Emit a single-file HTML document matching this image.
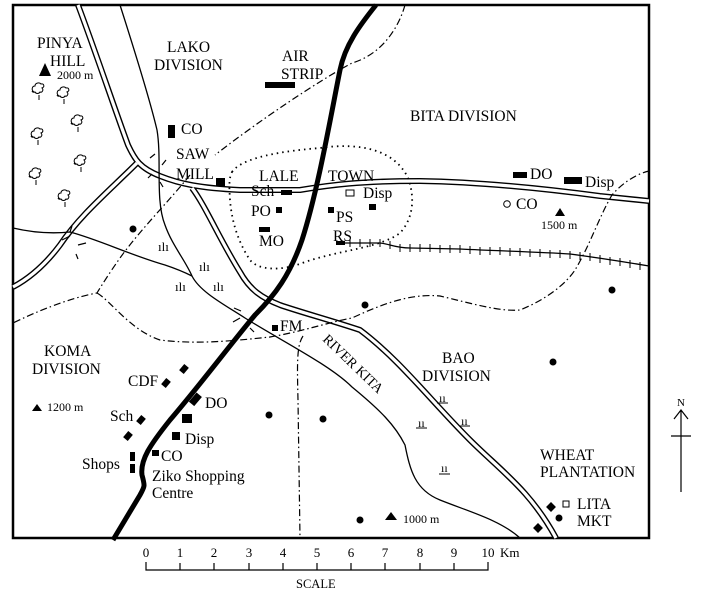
<!DOCTYPE html>
<html><head><meta charset="utf-8"><style>
html,body{margin:0;padding:0;background:#fff;}
svg{display:block;font-family:"Liberation Serif",serif;}
text{fill:#000;}
</style></head><body>
<svg width="704" height="593" viewBox="0 0 704 593" xmlns="http://www.w3.org/2000/svg">
<defs>
<g id="tr" fill="none" stroke="#000" stroke-width="1"><path d="M-4,0 c-3,-2 -2,-6 1,-6 c0,-3 4,-4 6,-2 c3,-1 4,3 1,4 c2,2 0,5 -2,4 c-1,2 -4,2 -5,0 c-3,1 -4,-2 -1,0 M1,3 v5"/></g>
</defs>
<rect x="13" y="5" width="636" height="533" fill="none" stroke="#000" stroke-width="2.5"/>

<g fill="none" stroke="#000" stroke-width="6" stroke-linejoin="round">
<path d="M78,5 C95,50 115,110 128,145 C135,160 140,168 160,176 C180,184 200,188 240,190 L300,190 C330,185 360,181 420,181 C480,182 540,188 600,196 L649,201"/>
<path d="M137,163 C110,190 80,215 60,245 C45,265 30,278 13,287"/>
<path d="M192,188 C205,205 220,240 240,272 C250,290 262,298 280,305 C300,312 330,320 360,330 C400,360 430,400 470,440 C500,470 530,490 556,538"/>
</g>
<g fill="none" stroke="#fff" stroke-width="3.2" stroke-linejoin="round">
<path d="M78,5 C95,50 115,110 128,145 C135,160 140,168 160,176 C180,184 200,188 240,190 L300,190 C330,185 360,181 420,181 C480,182 540,188 600,196 L649,201"/>
<path d="M137,163 C110,190 80,215 60,245 C45,265 30,278 13,287"/>
<path d="M192,188 C205,205 220,240 240,272 C250,290 262,298 280,305 C300,312 330,320 360,330 C400,360 430,400 470,440 C500,470 530,490 556,538"/>
</g>

<g fill="none" stroke="#000" stroke-width="1.3">
<path d="M120,5 C128,30 150,100 157,130 C162,160 155,200 165,225 C172,245 185,260 192,276 C200,292 225,305 245,318 C280,340 330,365 352,387 C380,410 395,425 405,445 C410,470 415,490 440,500 C470,512 500,520 520,538"/>
<path d="M13,228 C30,232 50,234 70,232 C100,240 130,255 165,265 C180,270 188,274 192,276"/>
</g>
<g fill="none" stroke="#000" stroke-width="1.2">
<path d="M150,158 l5,-4 M162,165 l4,-5 M148,178 l4,-4 M160,182 l3,5"/>
<path d="M62,240 l8,-4 M70,232 l2,-6 M78,245 l8,-2 M76,254 l2,5"/>
<path d="M234,308 l7,3 M233,322 l7,-4 M250,318 l5,-3 M250,328 l4,4"/>
</g>

<path d="M376,5 C360,25 345,45 340,70 C330,120 318,190 302,240 C290,275 275,295 255,315 C230,345 200,385 170,420 C150,445 140,460 142,475 C145,486 145,486 140,495 L113,540" fill="none" stroke="#000" stroke-width="5"/>

<g fill="none" stroke="#000" stroke-width="1.2" stroke-dasharray="7,3,1.5,3">
<path d="M405,5 C398,30 380,55 352,63 C320,80 260,120 215,155"/>
<path d="M190,175 C170,200 140,230 120,258 C108,275 100,288 97,293 C80,296 50,305 13,323"/>
<path d="M97,293 C110,300 130,330 160,340 C200,345 240,340 270,337 C300,332 330,322 352,318 C380,305 410,293 440,296 C470,303 500,312 520,310 C545,300 565,285 575,270 C590,245 600,215 612,195 C625,180 640,173 649,171"/>
<path d="M303,336 C297,345 297,360 298,400 L300,538"/>
</g>

<path d="M232,172 C240,160 270,152 320,148 C360,142 395,150 408,178 C416,200 412,220 400,233 C380,248 340,250 305,262 C280,272 258,270 250,260 C240,245 232,225 230,200 C229,185 229,178 232,172 Z" fill="none" stroke="#000" stroke-width="1.8" stroke-dasharray="1.5,4"/>

<path d="M336,243 L380,243 C390,244 395,248 410,248 L460,249 C500,251 540,252 570,254 C600,258 625,262 649,266" fill="none" stroke="#000" stroke-width="1.3"/>
<g stroke="#000" stroke-width="1">
<path d="M350,239v8M360,239v8M370,239v8M380,239v8M390,241v8M400,244v8M410,244v8M420,244v8M430,244v8M440,245v8M450,245v8M460,245v8M470,246v8M480,247v8M490,247v8M500,247v8M510,248v8M520,248v8M530,249v8M540,249v8M550,250v8M560,250v8M570,251v8M580,252v8M590,253v8M600,255v8M610,257v8M620,258v8M630,260v8M640,262v8"/>
</g>

<use href="#tr" x="38" y="92"/><use href="#tr" x="63" y="96"/><use href="#tr" x="77" y="124"/><use href="#tr" x="37" y="137"/><use href="#tr" x="80" y="164"/><use href="#tr" x="35" y="177"/><use href="#tr" x="64" y="199"/>

<g font-size="13">
<text x="158" y="251">ılı</text><text x="199" y="271">ılı</text><text x="175" y="291">ılı</text><text x="213" y="291">ılı</text>
</g>
<g font-size="12">
<text x="439" y="402">ıı</text><text x="418" y="427">ıı</text><text x="461" y="425">ıı</text><text x="441" y="472">ıı</text>
</g>
<g stroke="#000" stroke-width="1"><path d="M437,403h11M416,428h11M459,426h11M439,474h11"/></g>

<g fill="#000">
<rect x="265" y="82" width="30" height="6"/>
<rect x="168" y="125" width="7" height="13"/>
<rect x="216" y="178" width="9" height="8"/>
<rect x="281" y="190" width="11" height="5"/>
<rect x="276" y="207" width="6" height="6"/>
<rect x="259" y="227" width="11" height="5"/>
<rect x="328" y="207" width="6" height="6"/>
<rect x="336" y="241" width="9" height="4"/>
<rect x="369" y="204" width="7" height="6"/>
<rect x="513" y="172" width="14" height="6"/>
<rect x="564" y="177" width="18" height="7"/>
<rect x="272" y="325" width="6" height="6"/>
<rect x="182" y="414" width="10" height="9"/>
<rect x="172" y="432" width="8" height="8"/>
<rect x="152" y="450" width="7" height="6"/>
<rect x="130" y="452" width="5" height="9"/>
<rect x="130" y="464" width="5" height="9"/>
<rect x="-4" y="-3" width="8" height="6" transform="translate(184,369) rotate(-50)"/>
<rect x="-4" y="-3" width="8" height="6" transform="translate(166,383) rotate(-50)"/>
<rect x="-6" y="-3" width="12" height="7" transform="translate(195,399) rotate(-50)"/>
<rect x="-4" y="-3" width="8" height="6" transform="translate(141,420) rotate(-50)"/>
<rect x="-4" y="-3" width="8" height="6" transform="translate(128,436) rotate(-50)"/>
<rect x="-3.5" y="-3.5" width="7" height="7" transform="translate(551,507) rotate(45)"/>
<rect x="-3.5" y="-3.5" width="7" height="7" transform="translate(538,528) rotate(45)"/>
<circle cx="133" cy="229" r="3.5"/><circle cx="612" cy="290" r="3.5"/><circle cx="365" cy="305" r="3.5"/><circle cx="553" cy="362" r="3.5"/><circle cx="269" cy="415" r="3.5"/><circle cx="323" cy="419" r="3.5"/><circle cx="360" cy="520" r="3.5"/><circle cx="559" cy="518" r="3.5"/>
<path d="M39,76 L45,63 L51,76Z"/>
<path d="M555,216 L560,208 L565,216Z"/>
<path d="M32,411 L37,404 L42,411Z"/>
<path d="M385,520 L391,512 L397,520Z"/>
</g>
<rect x="346" y="190" width="8" height="6" fill="none" stroke="#000"/>
<rect x="563" y="501" width="6" height="6" fill="none" stroke="#000"/>
<circle cx="507" cy="204" r="3.3" fill="none" stroke="#000"/>

<g font-size="15.5">
<text x="37" y="48">PINYA</text><text x="50" y="66">HILL</text>
<text x="167" y="52">LAKO</text><text x="154" y="70">DIVISION</text>
<text x="282" y="61">AIR</text><text x="281" y="79">STRIP</text>
<text x="181" y="134">CO</text>
<text x="176" y="159">SAW</text><text x="176" y="179">MILL</text>
<text x="259" y="181">LALE</text><text x="328" y="181">TOWN</text>
<text x="251" y="196">Sch</text><text x="251" y="216">PO</text><text x="259" y="246">MO</text>
<text x="336" y="222">PS</text><text x="333" y="241">RS</text><text x="363" y="198">Disp</text>
<text x="410" y="121">BITA DIVISION</text>
<text x="530" y="179">DO</text><text x="585" y="187">Disp</text><text x="516" y="209">CO</text>
<text x="44" y="356">KOMA</text><text x="32" y="374">DIVISION</text>
<text x="128" y="386">CDF</text><text x="110" y="421">Sch</text><text x="205" y="408">DO</text>
<text x="185" y="444">Disp</text><text x="161" y="461">CO</text><text x="82" y="469">Shops</text>
<text x="152" y="481">Ziko Shopping</text><text x="152" y="498">Centre</text>
<text x="280" y="331">FM</text>
<text x="442" y="363">BAO</text><text x="422" y="381">DIVISION</text>
<text x="540" y="460">WHEAT</text><text x="540" y="477">PLANTATION</text>
<text x="577" y="509">LITA</text><text x="577" y="526">MKT</text>
<text transform="translate(322,340) rotate(44)" font-size="14">RIVER KITA</text>
</g>
<g font-size="12">
<text x="57" y="79">2000 m</text><text x="541" y="229">1500 m</text><text x="47" y="411">1200 m</text><text x="403" y="523">1000 m</text>
</g>

<g stroke="#000" stroke-width="1.2" fill="none">
<path d="M146,562 V570 H488 V562 M180,563v7M214,563v7M249,563v7M283,563v7M317,563v7M351,563v7M385,563v7M420,563v7M454,563v7"/>
</g>
<g font-size="13" text-anchor="middle">
<text x="146" y="557">0</text><text x="180" y="557">1</text><text x="214" y="557">2</text><text x="249" y="557">3</text><text x="283" y="557">4</text><text x="317" y="557">5</text><text x="351" y="557">6</text><text x="385" y="557">7</text><text x="420" y="557">8</text><text x="454" y="557">9</text><text x="488" y="557">10</text>
</g>
<text x="500" y="557" font-size="13">Km</text>
<text x="296" y="588" font-size="12.5">SCALE</text>

<g stroke="#000" stroke-width="1.2" fill="none">
<path d="M681,492 V411 M674,419 L681,410 L688,419 M671,436 H691"/>
</g>
<text x="681" y="406" font-size="11" text-anchor="middle">N</text>
</svg>
</body></html>
